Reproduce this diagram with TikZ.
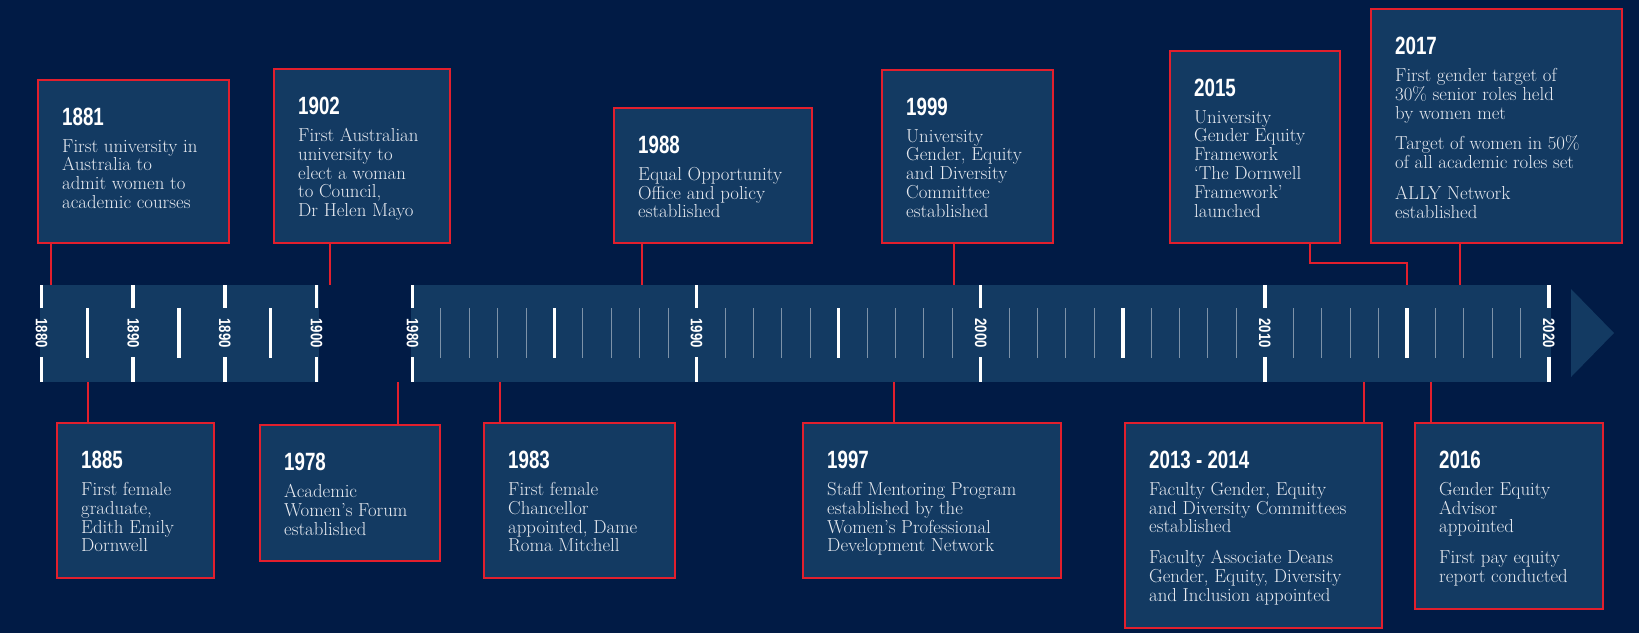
\documentclass[tikz,border=0pt]{standalone}
\usepackage{fontspec}
\newfontfamily\yearfont[FakeStretch=0.75]{Liberation Sans}
\newfontfamily\tickfont[FakeStretch=0.8]{Liberation Sans}
\usepackage{xcolor}
\usetikzlibrary{calc}

\definecolor{navybg}{HTML}{011B45}
\definecolor{panel}{HTML}{133A62}
\definecolor{accent}{HTML}{E21F2D}
\definecolor{bodytext}{HTML}{E8EBF1}

\tikzset{
  evbox/.style={draw=accent, line width=2pt, fill=panel, inner sep=0pt, anchor=north west},
  evyear/.style={anchor=base west, inner sep=0pt, text=white, font=\yearfont\bfseries\fontsize{25}{25}\selectfont},
  evtext/.style={anchor=north west, inner sep=0pt, align=left, text=bodytext, font=\fontsize{18.8}{18.8}\selectfont},
  link/.style={accent, line width=2pt},
  majortick/.style={white, line width=3.5pt},
  minortick/.style={white, line width=3.5pt},
  finetick/.style={white, opacity=0.45, line width=1pt},
  ticklabel/.style={text=white, rotate=-90, inner sep=0pt, font=\tickfont\bfseries\fontsize{16.5}{16.5}\selectfont}
}

\begin{document}
\begin{tikzpicture}[x=1pt, y=-1pt]
    % background
    \useasboundingbox (0,0) rectangle (1639,633);
    \fill[navybg] (0,0) rectangle (1639,633);

    % timeline bar
    \fill[panel] (39.5,285) rectangle (318.5,382);
    \fill[panel] (411,285) rectangle (1551,382);
    \fill[panel] (1571,289) -- (1614,333) -- (1571,377) -- cycle;

    % ticks of the first segment
    \foreach \x/\lab in {41.5/1880, 133.2/1890, 224.8/1890, 316.5/1900} {
        \draw[majortick] (\x,285) -- (\x,308);
        \draw[majortick] (\x,357) -- (\x,382);
        \node[ticklabel] at (\x,333) {\lab};
    }
    \foreach \x in {87.3, 179, 270.7}
        \draw[minortick] (\x,308) -- (\x,358);

    % ticks of the second segment
    \foreach \n/\lab in {0/1980, 10/1990, 20/2000, 30/2010, 40/2020} {
        \pgfmathsetmacro\x{412.5+28.41*\n}
        \draw[majortick] (\x,285) -- (\x,308);
        \draw[majortick] (\x,357) -- (\x,382);
        \node[ticklabel] at (\x,333) {\lab};
    }
    \foreach \n in {5, 15, 25, 35} {
        \pgfmathsetmacro\x{412.5+28.41*\n}
        \draw[minortick] (\x,308) -- (\x,358);
    }
    \foreach \n in {1,...,39} {
        \pgfmathtruncatemacro\r{mod(\n,5)}
        \pgfmathsetmacro\x{412.5+28.41*\n}
        \ifnum\r>0 \draw[finetick] (\x,308) -- (\x,358); \fi
    }

    % points on the bar
    \coordinate (c1881) at (51,285);
    \coordinate (c1902) at (330,285);
    \coordinate (c1988) at (642,285);
    \coordinate (c1999) at (954,285);
    \coordinate (k2015) at (1310,263);
    \coordinate (c2015) at (1407,285);
    \coordinate (c2017) at (1460,285);
    \coordinate (c1885) at (88,382);
    \coordinate (c1978) at (398,382);
    \coordinate (c1983) at (500,382);
    \coordinate (c1997) at (894,382);
    \coordinate (c2013) at (1364,382);
    \coordinate (c2016) at (1431,382);

    % boxes above the bar
    \node[evbox, minimum width=191pt, minimum height=163pt] (b1881) at (37,79) {};
    \node[evyear] (y1881) at ([shift={(25,46)}]b1881.north west) {1881};
    \node[evtext] (t1881) at ([shift={(25,60)}]b1881.north west) {First university in\\Australia to\\admit women to\\academic courses};

    \node[evbox, minimum width=176pt, minimum height=174pt] (b1902) at (273,68) {};
    \node[evyear] (y1902) at ([shift={(25,46)}]b1902.north west) {1902};
    \node[evtext] (t1902) at ([shift={(25,60)}]b1902.north west) {First Australian\\university to\\elect a woman\\to Council,\\Dr Helen Mayo};

    \node[evbox, minimum width=198pt, minimum height=135pt] (b1988) at (613,107) {};
    \node[evyear] (y1988) at ([shift={(25,46)}]b1988.north west) {1988};
    \node[evtext] (t1988) at ([shift={(25,60)}]b1988.north west) {Equal Opportunity\\Office and policy\\established};

    \node[evbox, minimum width=171pt, minimum height=173pt] (b1999) at (881,69) {};
    \node[evyear] (y1999) at ([shift={(25,46)}]b1999.north west) {1999};
    \node[evtext] (t1999) at ([shift={(25,60)}]b1999.north west) {University\\Gender, Equity\\and Diversity\\Committee\\established};

    \node[evbox, minimum width=170pt, minimum height=192pt] (b2015) at (1169,50) {};
    \node[evyear] (y2015) at ([shift={(25,46)}]b2015.north west) {2015};
    \node[evtext] (t2015) at ([shift={(25,60)}]b2015.north west) {University\\Gender Equity\\Framework\\‘The Dornwell\\Framework’\\launched};

    \node[evbox, minimum width=251pt, minimum height=234pt] (b2017) at (1370,8) {};
    \node[evyear] (y2017) at ([shift={(25,46)}]b2017.north west) {2017};
    \node[evtext] (t2017) at ([shift={(25,60)}]b2017.north west) {First gender target of\\30\% senior roles held\\by women met\\[12pt]Target of women in 50\%\\of all academic roles set\\[12pt]ALLY Network\\established};

    % boxes below the bar
    \node[evbox, minimum width=157pt, minimum height=155pt] (b1885) at (56,422) {};
    \node[evyear] (y1885) at ([shift={(25,46)}]b1885.north west) {1885};
    \node[evtext] (t1885) at ([shift={(25,60)}]b1885.north west) {First female\\graduate,\\Edith Emily\\Dornwell};

    \node[evbox, minimum width=180pt, minimum height=136pt] (b1978) at (259,424) {};
    \node[evyear] (y1978) at ([shift={(25,46)}]b1978.north west) {1978};
    \node[evtext] (t1978) at ([shift={(25,60)}]b1978.north west) {Academic\\Women’s Forum\\established};

    \node[evbox, minimum width=191pt, minimum height=155pt] (b1983) at (483,422) {};
    \node[evyear] (y1983) at ([shift={(25,46)}]b1983.north west) {1983};
    \node[evtext] (t1983) at ([shift={(25,60)}]b1983.north west) {First female\\Chancellor\\appointed, Dame\\Roma Mitchell};

    \node[evbox, minimum width=258pt, minimum height=155pt] (b1997) at (802,422) {};
    \node[evyear] (y1997) at ([shift={(25,46)}]b1997.north west) {1997};
    \node[evtext] (t1997) at ([shift={(25,60)}]b1997.north west) {Staff Mentoring Program\\established by the\\Women’s Professional\\Development Network};

    \node[evbox, minimum width=257pt, minimum height=205pt] (b2013) at (1124,422) {};
    \node[evyear] (y2013) at ([shift={(25,46)}]b2013.north west) {2013 - 2014};
    \node[evtext] (t2013) at ([shift={(25,60)}]b2013.north west) {Faculty Gender, Equity\\and Diversity Committees\\established\\[12pt]Faculty Associate Deans\\Gender, Equity, Diversity\\and Inclusion appointed};

    \node[evbox, minimum width=188pt, minimum height=186pt] (b2016) at (1414,422) {};
    \node[evyear] (y2016) at ([shift={(25,46)}]b2016.north west) {2016};
    \node[evtext] (t2016) at ([shift={(25,60)}]b2016.north west) {Gender Equity\\Advisor\\appointed\\[12pt]First pay equity\\report conducted};

    % connectors
    \draw[link] (b1881.south -| c1881) -- (c1881);
    \draw[link] (b1902.south -| c1902) -- (c1902);
    \draw[link] (b1988.south -| c1988) -- (c1988);
    \draw[link] (b1999.south -| c1999) -- (c1999);
    \draw[link] (b2015.south -| k2015) -- (k2015) -| (c2015);
    \draw[link] (b2017.south -| c2017) -- (c2017);
    \draw[link] (c1885) -- (c1885 |- b1885.north);
    \draw[link] (c1978) -- (c1978 |- b1978.north);
    \draw[link] (c1983) -- (c1983 |- b1983.north);
    \draw[link] (c1997) -- (c1997 |- b1997.north);
    \draw[link] (c2013) -- (c2013 |- b2013.north);
    \draw[link] (c2016) -- (c2016 |- b2016.north);
\end{tikzpicture}
\end{document}
